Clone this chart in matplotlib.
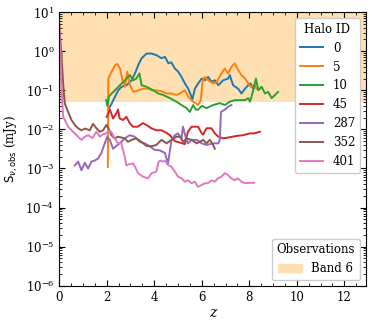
import matplotlib.pyplot as plt
from matplotlib.patches import Patch
from matplotlib.ticker import MultipleLocator

plt.rcParams['font.family'] = 'DejaVu Serif'
plt.rcParams['font.size'] = 8.5

# Halo 0
z0 = [2.07, 2.21, 2.35, 2.49, 2.63, 2.84, 3.05, 3.19, 3.33, 3.47, 3.68, 3.89, 4.1, 4.31,
      4.45, 4.6, 4.72, 4.87, 5.01, 5.15, 5.29, 5.43, 5.57, 5.61, 5.71, 5.85, 6.0, 6.13,
      6.27, 6.41, 6.55, 6.7, 6.9, 7.11, 7.18, 7.32, 7.53, 7.67, 7.82, 7.96, 8.05, 8.16, 8.24]
s0 = [0.032, 0.046, 0.068, 0.10, 0.123, 0.135, 0.18, 0.27, 0.44, 0.66, 0.87, 0.87, 0.79, 0.66,
      0.72, 0.49, 0.52, 0.36, 0.30, 0.22, 0.15, 0.11, 0.068, 0.059, 0.11, 0.15, 0.20, 0.18,
      0.22, 0.166, 0.18, 0.135, 0.18, 0.20, 0.245, 0.135, 0.11, 0.083, 0.11, 0.135, 0.15, 0.11, 0.13]

# Halo 5
z5 = [2.05, 2.07, 2.21, 2.35, 2.45, 2.56, 2.67, 2.77, 2.87, 2.98, 3.12, 3.33, 3.54, 3.75,
      3.9, 4.1, 4.3, 4.52, 4.72, 4.94, 5.08, 5.29, 5.43, 5.64, 5.85, 5.96, 6.04, 6.13,
      6.27, 6.48, 6.62, 6.83, 6.97, 7.11, 7.25, 7.39, 7.53, 7.67, 7.82, 7.96, 8.06, 8.17, 8.31]
s5 = [0.0011, 0.2, 0.30, 0.44, 0.47, 0.36, 0.18, 0.123, 0.30, 0.135, 0.091, 0.10, 0.11, 0.11,
      0.10, 0.10, 0.095, 0.083, 0.083, 0.076, 0.083, 0.10, 0.068, 0.051, 0.042, 0.056, 0.18, 0.22,
      0.18, 0.15, 0.16, 0.27, 0.36, 0.27, 0.40, 0.49, 0.33, 0.245, 0.20, 0.15, 0.123, 0.135, 0.11]

# Halo 10
z10 = [1.98, 2.03, 2.1, 2.21, 2.35, 2.56, 2.77, 2.98, 3.12, 3.25, 3.38, 3.47, 3.68, 3.96,
       4.17, 4.38, 4.66, 4.94, 5.15, 5.36, 5.5, 5.64, 5.75, 5.85, 6.0, 6.2, 6.48, 6.76,
       6.97, 7.18, 7.39, 7.6, 7.82, 7.96, 8.03, 8.17, 8.28, 8.38, 8.52, 8.66, 8.8, 8.94,
       9.08, 9.21]
s10 = [0.056, 0.040, 0.07, 0.083, 0.10, 0.135, 0.18, 0.245, 0.18, 0.20, 0.27, 0.135, 0.123, 0.10,
       0.083, 0.076, 0.063, 0.051, 0.042, 0.035, 0.028, 0.042, 0.032, 0.032, 0.04, 0.035, 0.042, 0.047,
       0.042, 0.051, 0.056, 0.056, 0.056, 0.063, 0.051, 0.10, 0.20, 0.10, 0.123, 0.083, 0.091, 0.063,
       0.076, 0.091]

# Halo 45
z45 = [2.0, 2.14, 2.27, 2.41, 2.48, 2.55, 2.69, 2.83, 2.97, 3.11, 3.3, 3.53, 3.67, 3.88,
       4.09, 4.3, 4.5, 4.66, 4.87, 5.08, 5.29, 5.42, 5.57, 5.71, 5.85, 6.0, 6.06, 6.2,
       6.41, 6.55, 6.7, 6.9, 7.18, 7.46, 7.74, 8.03, 8.2, 8.45]
s45 = [0.021, 0.032, 0.019, 0.026, 0.032, 0.019, 0.0174, 0.021, 0.0145, 0.0117, 0.0117, 0.0145,
       0.013, 0.0107, 0.0095, 0.0095, 0.0083, 0.0071, 0.005, 0.0046, 0.0042, 0.0087, 0.0117, 0.0117,
       0.0117, 0.0079, 0.0074, 0.0107, 0.0107, 0.0079, 0.0065, 0.0059, 0.0063, 0.0068, 0.0071,
       0.0079, 0.0079, 0.0087]

# Halo 287
z287 = [0.66, 0.8, 0.94, 1.08, 1.22, 1.36, 1.5, 1.64, 1.78, 1.92, 2.03, 2.13, 2.27, 2.41,
        2.55, 2.76, 2.97, 3.18, 3.39, 3.6, 3.81, 4.02, 4.24, 4.45, 4.58, 4.73, 4.87, 5.0,
        5.15, 5.21, 5.34, 5.42, 5.57, 5.79, 6.0, 6.2, 6.48, 6.7, 6.76, 6.81, 6.97, 7.11, 7.25]
s287 = [0.0012, 0.0015, 0.0009, 0.0014, 0.001, 0.0015, 0.0016, 0.0018, 0.0025, 0.0044, 0.0065,
        0.0054, 0.0032, 0.0038, 0.0044, 0.0059, 0.0071, 0.0065, 0.0048, 0.0044, 0.0037, 0.003,
        0.0029, 0.0025, 0.00135, 0.0054, 0.0071, 0.0079, 0.0059, 0.0117, 0.0059, 0.0044, 0.0054,
        0.0054, 0.0044, 0.004, 0.0044, 0.0044, 0.0054, 0.028, 0.032, 0.038, 0.042]

# Halo 352
z352 = [0.0, 0.05, 0.11, 0.17, 0.24, 0.38, 0.52, 0.66, 0.8, 0.94, 1.1, 1.29, 1.43, 1.57,
        1.71, 1.85, 1.99, 2.1, 2.2, 2.34, 2.48, 2.62, 2.76, 2.9, 3.05, 3.25, 3.46, 3.67,
        3.88, 4.09, 4.31, 4.52, 4.73, 4.94, 5.08, 5.22, 5.36, 5.57, 5.79, 6.06, 6.2, 6.34,
        6.48, 6.55]
s352 = [5.0, 2.0, 0.6, 0.15, 0.046, 0.028, 0.0174, 0.013, 0.0107, 0.0095, 0.0105, 0.0095,
        0.0138, 0.0107, 0.0087, 0.0095, 0.013, 0.01, 0.0071, 0.0059, 0.0065, 0.0062, 0.0059,
        0.0048, 0.0054, 0.0059, 0.0048, 0.0038, 0.0037, 0.004, 0.0054, 0.0044, 0.0054, 0.0065,
        0.0065, 0.0048, 0.0059, 0.0054, 0.0044, 0.0054, 0.0044, 0.0054, 0.004, 0.0032]

# Halo 401
z401 = [0.0, 0.05, 0.1, 0.17, 0.25, 0.38, 0.59, 0.8, 0.94, 1.08, 1.22, 1.4, 1.57, 1.71,
        1.85, 1.99, 2.1, 2.2, 2.34, 2.48, 2.62, 2.76, 2.83, 2.97, 3.11, 3.2, 3.32, 3.53,
        3.74, 3.89, 4.09, 4.17, 4.24, 4.38, 4.45, 4.58, 4.73, 4.87, 5.0, 5.15, 5.29, 5.42,
        5.57, 5.71, 5.84, 6.0, 6.13, 6.26, 6.41, 6.55, 6.68, 6.83, 6.97, 7.1, 7.25, 7.39,
        7.52, 7.67, 7.82, 8.0, 8.2]
s401 = [5.0, 1.0, 0.12, 0.021, 0.017, 0.0117, 0.0087, 0.0065, 0.0054, 0.0065, 0.0071, 0.006,
        0.0087, 0.0065, 0.0075, 0.0079, 0.0095, 0.0085, 0.0059, 0.0044, 0.0044, 0.002, 0.0012,
        0.0013, 0.00135, 0.0011, 0.00076, 0.00062, 0.00056, 0.00076, 0.00083, 0.0014, 0.0016,
        0.0015, 0.0016, 0.00123, 0.0011, 0.00083, 0.00062, 0.00056, 0.00046, 0.0005, 0.00042,
        0.00046, 0.00034, 0.00038, 0.00042, 0.00042, 0.0005, 0.00046, 0.00056, 0.00062, 0.00076,
        0.00068, 0.00056, 0.0005, 0.00056, 0.00046, 0.00042, 0.00043, 0.00043]

halo_ids = ['0', '5', '10', '45', '287', '352', '401']
zs = [z0, z5, z10, z45, z287, z352, z401]
ss = [s0, s5, s10, s45, s287, s352, s401]

band6_min = 0.05
band6_max = 20

fig = plt.figure(figsize=(3.74, 3.27), dpi=100)
ax = fig.add_axes([0.158, 0.126, 0.820, 0.837])

band_color = '#FFE0B2'
ax.axhspan(band6_min, band6_max, color=band_color, lw=0, zorder=0)

lines = []
for hid, z, s in zip(halo_ids, zs, ss):
    ln, = ax.plot(z, s, lw=1.4, label=hid)
    lines.append(ln)

ax.set_yscale('log')
ax.set_xlim(0, 12.9)
ax.set_ylim(1e-6, 10)
ax.xaxis.set_major_locator(MultipleLocator(2))
ax.xaxis.set_minor_locator(MultipleLocator(0.5))
ax.tick_params(which='both', direction='in', top=True, right=True)
ax.tick_params(which='major', length=4)
ax.tick_params(which='minor', length=2)

ax.set_xlabel('z', style='italic', fontsize=10, labelpad=2)
ax.set_ylabel(r'$\mathrm{S}_{\nu,\mathrm{obs}}$ (mJy)')

leg1 = ax.legend(handles=lines, title='Halo ID', loc='upper right', fontsize=8.5,
                 title_fontsize=8.5, handlelength=2.0, framealpha=1.0)
ax.add_artist(leg1)
ax.legend(handles=[Patch(color=band_color, label='Band 6')], title='Observations',
          loc='lower right', fontsize=8.5, title_fontsize=8.5, framealpha=1.0)

fig.savefig('out.png', dpi=100)
